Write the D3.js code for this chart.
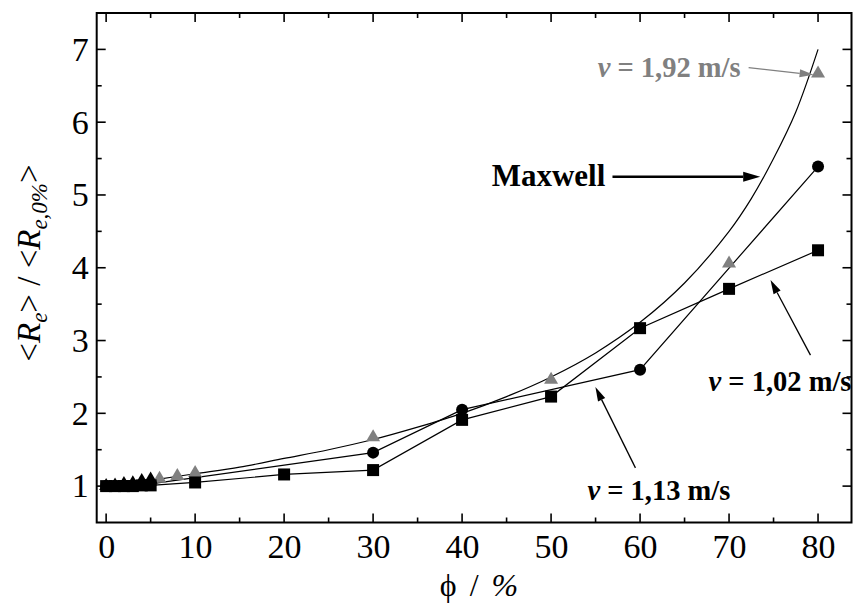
<!DOCTYPE html>
<html><head><meta charset="utf-8">
<script src="https://cdn.jsdelivr.net/npm/d3@7"></script>
<style>
body{margin:0;background:#fff;}
svg text{font-family:"Liberation Serif","Times New Roman",serif;}
</style></head>
<body><svg id="c" width="853" height="603"></svg>
<script>
// ---- data ----
const sqX  = [0,1,2,3,4,5,10,20,30,40,50,60,70,80];           // v = 1,02 m/s
const sqY  = [1.0,1.0,1.0,1.0,1.01,1.01,1.05,1.16,1.22,1.91,2.23,3.17,3.71,4.24];
const ciX  = [0,1,2,3,4,5,30,40,60,80];                         // v = 1,13 m/s
const ciY  = [1.0,1.0,1.01,1.01,1.02,1.03,1.46,2.05,2.60,5.39];
const trBX = [0,1,2,3,4,5];                                     // v = 1,92 m/s (dark, low phi)
const trBY = [1.0,1.01,1.03,1.04,1.07,1.09];
const trGX = [6,8,10,30,50,70,80];                              // v = 1,92 m/s (grey)
const trGY = [1.10,1.14,1.18,1.67,2.46,4.06,6.67];
const mxX  = [0,5,10,15,20,25,30,35,40,45,50,55,60,65,70,72.5,75,77.5,80]; // Maxwell curve
const mxY  = [1.0,1.08,1.17,1.26,1.38,1.5,1.64,1.81,2.0,2.23,2.5,2.83,3.25,3.79,4.5,4.95,5.5,6.14,7.0];
const xTicks = [0,10,20,30,40,50,60,70,80];
const yTicks = [1,2,3,4,5,6,7];

const svg = d3.select("#c");
const L=96.7, R=851.5, T=13, B=522.5;
const x = d3.scaleLinear().domain([-1.06,83.76]).range([L,R]);
const y = d3.scaleLinear().domain([0.5,7.5]).range([B,T]);
const grey = "#808080";
const TFS = 34;   // tick labels
const LFS = 28.5; // bold annotation labels

// frame
svg.append("rect").attr("x",L).attr("y",T).attr("width",R-L).attr("height",B-T)
  .attr("fill","none").attr("stroke","#000").attr("stroke-width",2);

// axes (ticks inward)
const xMinor = d3.range(0,85,5).filter(v=>v%10!==0);
const yMinor = d3.range(1.5,7.6,1);
function ticksX(g, pos, dir){
  g.selectAll("line.maj").data(xTicks).join("line").attr("x1",d=>x(d)).attr("x2",d=>x(d))
   .attr("y1",pos).attr("y2",pos+dir*9).attr("stroke","#000").attr("stroke-width",1.6);
  g.selectAll("line.min").data(xMinor).join("line").attr("class","min").attr("x1",d=>x(d)).attr("x2",d=>x(d))
   .attr("y1",pos).attr("y2",pos+dir*5).attr("stroke","#000").attr("stroke-width",1.6);
}
function ticksY(g, pos, dir){
  g.selectAll("line.maj").data(yTicks).join("line").attr("y1",d=>y(d)).attr("y2",d=>y(d))
   .attr("x1",pos).attr("x2",pos+dir*9).attr("stroke","#000").attr("stroke-width",1.6);
  g.selectAll("line.min").data(yMinor).join("line").attr("class","min").attr("y1",d=>y(d)).attr("y2",d=>y(d))
   .attr("x1",pos).attr("x2",pos+dir*5).attr("stroke","#000").attr("stroke-width",1.6);
}
ticksX(svg.append("g"), B, -1);
ticksX(svg.append("g"), T, 1);
ticksY(svg.append("g"), L, 1);
ticksY(svg.append("g"), R, -1);

// tick labels via d3 axes (tick lines hidden)
const xAxis = svg.append("g").attr("transform",`translate(0,${B})`)
  .call(d3.axisBottom(x).tickValues(xTicks).tickSize(0).tickPadding(0).tickFormat(d3.format("d")));
const yAxis = svg.append("g").attr("transform",`translate(${L},0)`)
  .call(d3.axisLeft(y).tickValues(yTicks).tickSize(0).tickPadding(8).tickFormat(d3.format("d")));
[xAxis,yAxis].forEach(a=>{
  a.select(".domain").remove();
  a.selectAll("text").attr("font-family","Liberation Serif").attr("font-size",TFS).attr("fill","#000");
});
xAxis.selectAll("text").attr("y",35.5).attr("dy",0);

// axis titles
const xt = svg.append("text").attr("x",479).attr("y",596).attr("text-anchor","middle")
  .attr("font-size",32);
xt.append("tspan").text("\u03D5");
xt.append("tspan").attr("dx",13).text("/");
xt.append("tspan").attr("dx",13).attr("font-style","italic").text("%");

const yt = svg.append("text").attr("transform","translate(40,263) rotate(-90)")
  .attr("text-anchor","middle").attr("font-size",33);
yt.append("tspan").text("<");
yt.append("tspan").attr("font-style","italic").text("R");
yt.append("tspan").attr("font-style","italic").attr("font-size",23).attr("dy",7).text("e");
yt.append("tspan").attr("dy",-7).text("> / <");
yt.append("tspan").attr("font-style","italic").text("R");
yt.append("tspan").attr("font-style","italic").attr("font-size",23).attr("dy",7).text("e,0%");
yt.append("tspan").attr("dy",-7).text(">");

// lines
const plot = svg.append("g");
const curve = d3.line().x(d=>x(d[0])).y(d=>y(d[1])).curve(d3.curveCatmullRom);
plot.append("path").datum(d3.zip(mxX,mxY)).attr("d",curve)
  .attr("fill","none").attr("stroke","#000").attr("stroke-width",1.2);
const lin = d3.line().x(d=>x(d[0])).y(d=>y(d[1]));
plot.append("path").datum(d3.zip(sqX,sqY)).attr("d",lin)
  .attr("fill","none").attr("stroke","#000").attr("stroke-width",1.2);
plot.append("path").datum(d3.zip(ciX,ciY)).attr("d",lin)
  .attr("fill","none").attr("stroke","#000").attr("stroke-width",1.2);

// markers
const triPath = "M0,-8L7,4L-7,4Z";
plot.selectAll("path.tg").data(d3.zip(trGX,trGY)).join("path").attr("class","tg")
  .attr("d",triPath).attr("transform",d=>`translate(${x(d[0])},${y(d[1])})`).attr("fill",grey);
plot.selectAll("rect.sq").data(d3.zip(sqX,sqY)).join("rect").attr("class","sq")
  .attr("x",d=>x(d[0])-6).attr("y",d=>y(d[1])-6).attr("width",12).attr("height",12).attr("fill","#000");
plot.selectAll("circle.ci").data(d3.zip(ciX,ciY)).join("circle").attr("class","ci")
  .attr("cx",d=>x(d[0])).attr("cy",d=>y(d[1])).attr("r",6).attr("fill","#000");
plot.selectAll("path.tb").data(d3.zip(trBX,trBY)).join("path").attr("class","tb")
  .attr("d",triPath).attr("transform",d=>`translate(${x(d[0])},${y(d[1])})`).attr("fill","#000");

// annotations
function arrow(x1,y1,x2,y2,color,w,hl,hw){
  const px1=x(x1),py1=y(y1),px2=x(x2),py2=y(y2);
  const a=Math.atan2(py2-py1,px2-px1);
  const bx=px2-hl*Math.cos(a), by=py2-hl*Math.sin(a);
  svg.append("line").attr("x1",px1).attr("y1",py1).attr("x2",bx).attr("y2",by)
    .attr("stroke",color).attr("stroke-width",w);
  const nx=-Math.sin(a)*hw/2, ny=Math.cos(a)*hw/2;
  svg.append("path").attr("d",`M${px2},${py2}L${bx+nx},${by+ny}L${bx-nx},${by-ny}Z`).attr("fill",color);
}
function label(xv,yv,anchor,color,txt){
  const t=svg.append("text").attr("x",x(xv)).attr("y",y(yv)).attr("text-anchor",anchor)
    .attr("font-size",LFS).attr("font-weight","bold").attr("fill",color);
  t.append("tspan").attr("font-style","italic").text("v");
  t.append("tspan").text(txt);
}
label(71.3,6.62,"end",grey," = 1,92 m/s");
arrow(72.2,6.75,79.5,6.65,grey,1.3,14,8);
svg.append("text").attr("x",x(56.1)).attr("y",y(5.12)).attr("text-anchor","end")
  .attr("font-size",31).attr("font-weight","bold").text("Maxwell");
arrow(56.9,5.25,73.5,5.25,"#000",2.6,17,10);
label(83.75,2.305,"end","#000"," = 1,02 m/s");
arrow(79.15,2.80,74.66,3.83,"#000",1.3,14,8);
label(54.08,0.81,"start","#000"," = 1,13 m/s");
arrow(59.48,1.25,54.98,2.36,"#000",1.3,14,8);
</script></body></html>
